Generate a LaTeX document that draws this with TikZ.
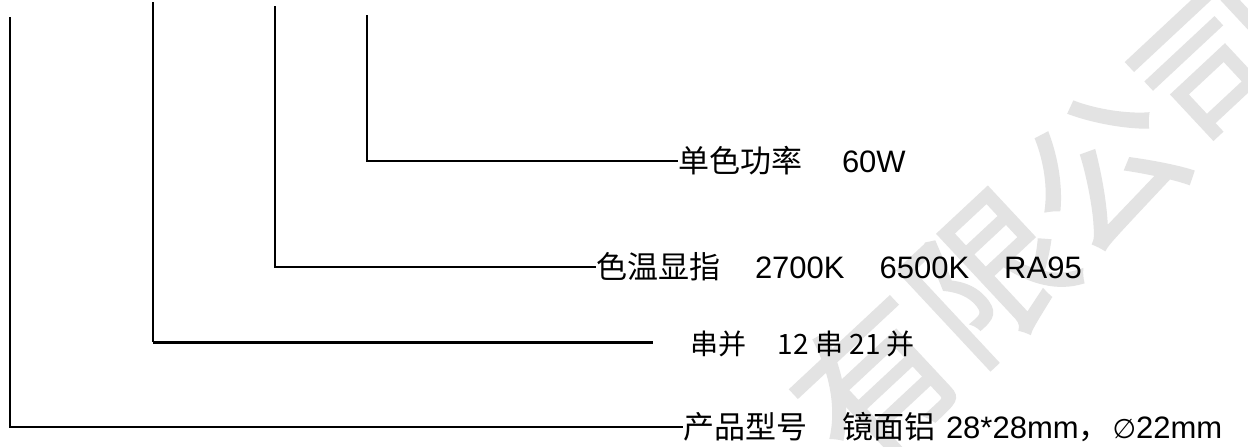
\documentclass[tikz,border=0pt]{standalone}
\usepackage{fontspec}
\setmainfont{Liberation Sans}
\newfontfamily\cjk{Noto Sans CJK SC}
\newfontfamily\cjkwm[FakeBold=1.6]{Noto Sans CJK SC}
\newfontfamily\djv{DejaVu Sans}
\begin{document}
\begin{tikzpicture}[x=1pt,y=-1pt,
  lbl/.style={anchor=west,inner sep=0pt,outer sep=0pt,font=\fontsize{31}{36}\selectfont},
  lblsmall/.style={anchor=west,inner sep=0pt,outer sep=0pt,font=\cjk\fontsize{28}{34}\selectfont},
  wmark/.style={text=black!11,font=\cjkwm\fontsize{155}{165}\selectfont,inner sep=0pt},
  lead/.style={draw=black,line width=2.2pt,line cap=butt}]
\useasboundingbox (0,0) rectangle (1248,447);
\fill[white] (0,0) rectangle (1248,447);
% watermark
\node[wmark,rotate=43] (wm) at (1045,222) {有限公司};
% labels
\node[lbl] (lD) at (678,161) {{\cjk 单色功率}\hspace{40pt}60W};
\node[lbl] (lC) at (596,267) {{\cjk 色温显指}\hspace{35pt}2700K\hspace{35pt}6500K\hspace{35pt}RA95};
\node[lblsmall] (lB) at (690,344) {串并\hspace{32pt}12 串 21 并};
\node[lbl] (lA) at (683,427) {{\cjk 产品型号}\hspace{36pt}{\cjk 镜面铝}\hspace{10pt}28*28mm{\cjk ，}\hspace{3pt}{\djv\fontsize{27}{30}\selectfont ∅}22mm};
% tops of leaders
\coordinate (tA) at (10,17);
\coordinate (tB) at (153,2);
\coordinate (tC) at (275,6);
\coordinate (tD) at (367,15);
\coordinate (eB) at (653,342);
% leaders
\draw[lead,line width=2pt] (tA) |- (lA.west);
\draw[lead,line width=2pt] (tB) -- (153,342);
\draw[lead,line width=3pt] (153,342) -- (eB);
\draw[lead,line width=2.4pt] (tC) |- (lC.west);
\draw[lead,line width=2.8pt] (tD) |- (lD.west);
\end{tikzpicture}
\end{document}
